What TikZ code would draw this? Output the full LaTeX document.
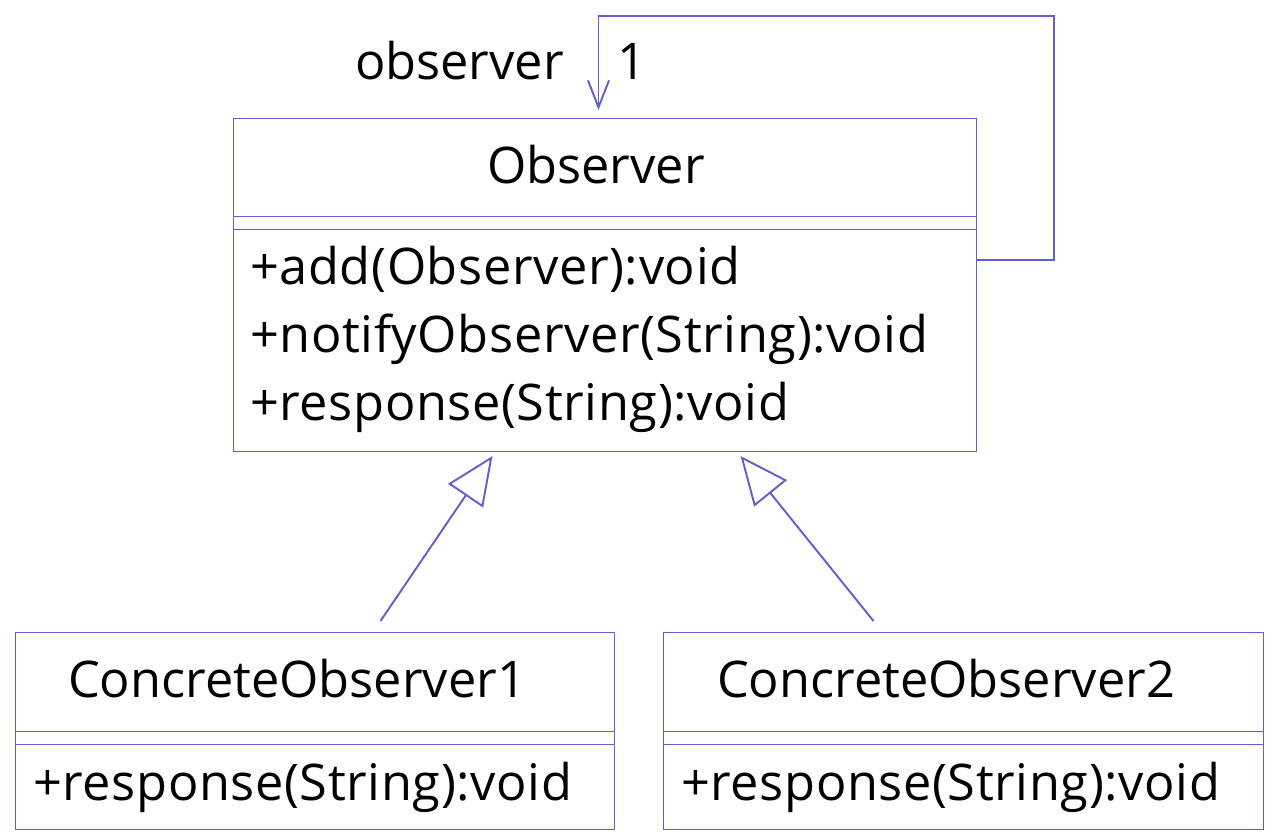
\documentclass[tikz,border=0pt]{standalone}
\usepackage{fontspec}
\setmainfont{Open Sans}
\newfontfamily\methfont{Open Sans}[LetterSpace=1.2]
\usetikzlibrary{arrows.meta}
\definecolor{umlblue}{RGB}{96,96,204}
\tikzset{
  box/.style={draw=umlblue, line width=1pt, anchor=north west, inner sep=0pt},
  txt/.style={inner sep=0pt, font=\fontsize{50.5}{60}\selectfont},
  meth/.style={inner sep=0pt, font=\methfont\fontsize{50.5}{60}\selectfont, anchor=base west},
  sep/.style={draw=umlblue, line width=1pt},
  assoc/.style={draw=umlblue, line width=1.9pt, -{Straight Barb[length=27pt,width=21pt]}},
  inherit/.style={draw=umlblue, line width=1.9pt, -{Triangle[open,length=48pt,width=42pt]}}
}
\begin{document}
\begin{tikzpicture}[x=1pt,y=-1pt]
\useasboundingbox[fill=white] (0,0) rectangle (1277,840);
% Observer class
\node[box, minimum width=743pt, minimum height=333pt] (obs) at (233,118) {};
\draw[sep] (233,216) -- (976,216);
\draw[sep] (233,229) -- (976,229);
\node[txt, anchor=base] (obsname) at (596,183) {Observer};
\node[meth] (m1) at (250,284) {+add(Observer):void};
\node[meth] (m2) at (250,352) {+notifyObserver(String):void};
\node[meth] (m3) at (250,420) {+response(String):void};
% ConcreteObserver1
\node[box, minimum width=599pt, minimum height=197pt] (c1) at (15,632) {};
\draw[sep] (15,731) -- (614,731);
\draw[sep] (15,744) -- (614,744);
\node[txt, anchor=base] (c1name) at (297,697) {ConcreteObserver1};
\node[meth] (c1m) at (33,800) {+response(String):void};
% ConcreteObserver2
\node[box, minimum width=600pt, minimum height=197pt] (c2) at (663,632) {};
\draw[sep] (663,731) -- (1263,731);
\draw[sep] (663,744) -- (1263,744);
\node[txt, anchor=base] (c2name) at (946,697) {ConcreteObserver2};
\node[meth] (c2m) at (681,800) {+response(String):void};
% self association
\draw[assoc] ([yshift=-142pt]obs.north east) -| (1054,16) -| ([xshift=-6.5pt,yshift=8pt]obs.north);
\node[txt, anchor=base east] (role) at (564,80) {observer};
\node[txt, anchor=base west] (mult) at (617,80) {1};
% generalizations
\draw[inherit] ([xshift=65.5pt,yshift=11pt]c1.north) -- ([xshift=-112.5pt,yshift=-4pt]obs.south);
\draw[inherit] ([xshift=-90pt,yshift=11pt]c2.north) -- ([xshift=135.5pt,yshift=-4pt]obs.south);
\end{tikzpicture}
\end{document}
